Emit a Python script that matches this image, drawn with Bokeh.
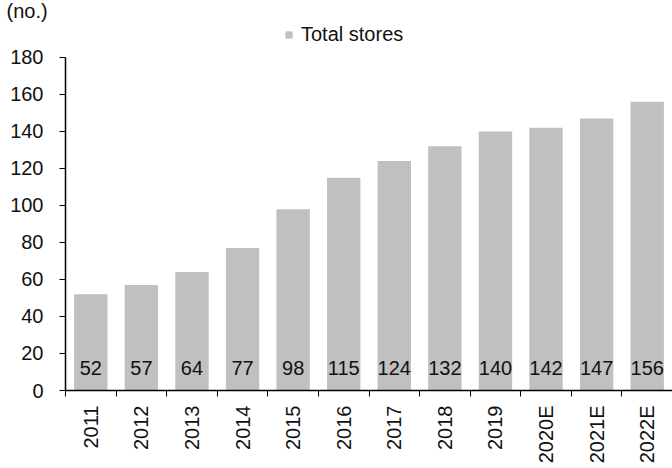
import math
from bokeh.plotting import figure
from bokeh.models import (ColumnDataSource, FixedTicker, Range1d, Legend, LegendItem)
from bokeh.core.properties import value
from bokeh.embed import file_html
from bokeh.resources import INLINE

years = ["2011", "2012", "2013", "2014", "2015", "2016", "2017", "2018",
         "2019", "2020E", "2021E", "2022E"]
stores = [52, 57, 64, 77, 98, 115, 124, 132, 140, 142, 147, 156]
y_ticks = [0, 20, 40, 60, 80, 100, 120, 140, 160, 180]

xs = list(range(1, len(years) + 1))
src = ColumnDataSource(dict(x=xs, top=stores, label=[str(v) for v in stores],
                            ly=[12] * len(xs)))

FONT = "Liberation Sans"
FS = "20px"
p = figure(width=672, height=468, output_backend="svg", toolbar_location=None,
           x_range=Range1d(0.5, len(years) + 0.5), y_range=Range1d(0, 201),
           min_border_left=65, min_border_right=0, min_border_bottom=78,
           min_border_top=0)
p.outline_line_color = None
p.xgrid.grid_line_color = None
p.ygrid.grid_line_color = None

bars = p.vbar(x="x", top="top", width=0.66, source=src, fill_color="#C0C0C0",
              line_color=None)
p.text(x="x", y="ly", text="label", source=src, text_align="center",
       text_baseline="middle", text_font=value(FONT), text_font_size=FS,
       text_color="#111111")

# x axis
p.xaxis.ticker = FixedTicker(ticks=xs, minor_ticks=[i + 0.5 for i in range(0, len(years) + 1)])
p.xaxis.major_label_overrides = {x: y for x, y in zip(xs, years)}
p.xaxis.major_tick_line_color = None
p.xaxis.minor_tick_line_color = "black"
p.xaxis.minor_tick_out = 6
p.xaxis.minor_tick_in = 0
p.xaxis.major_label_orientation = math.pi / 2
p.xaxis.major_label_text_font = FONT
p.xaxis.major_label_text_font_size = FS
p.xaxis.major_label_text_color = "#111111"
p.xaxis.major_label_standoff = 9
p.xaxis.axis_line_color = "black"
p.xaxis.axis_line_width = 1.5

# y axis
p.yaxis.ticker = FixedTicker(ticks=y_ticks)
p.yaxis.bounds = (0, 180)
p.yaxis.minor_tick_line_color = None
p.yaxis.major_tick_out = 6
p.yaxis.major_tick_in = 0
p.yaxis.major_tick_line_color = "black"
p.yaxis.major_label_text_font = FONT
p.yaxis.major_label_text_font_size = FS
p.yaxis.major_label_text_color = "#111111"
p.yaxis.major_label_standoff = 16
p.yaxis.axis_line_color = "black"
p.yaxis.axis_line_width = 1.5

# title "(no.)"
p.title.text = "(no.)"
p.title.text_font = FONT
p.title.text_font_size = FS
p.title.text_font_style = "normal"
p.title.text_color = "#111111"
p.title.align = "left"
p.title.offset = -59
p.title.standoff = -6

legend = Legend(items=[LegendItem(label="Total stores", renderers=[bars])],
                orientation="horizontal", location=(219, 344),
                label_text_font=FONT, label_text_font_size=FS,
                label_text_color="#111111",
                glyph_width=9, glyph_height=9, border_line_color=None,
                background_fill_alpha=0, padding=0, margin=0, spacing=4,
                label_standoff=8)
p.add_layout(legend)

open("out.html", "w").write(file_html(p, INLINE))
